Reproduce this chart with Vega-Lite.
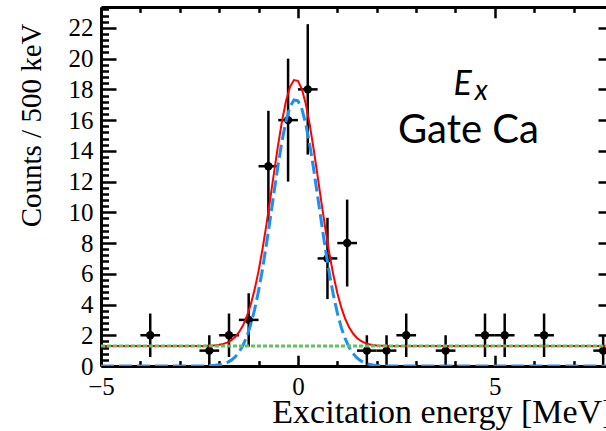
{
  "$schema": "https://vega.github.io/schema/vega-lite/v6.json",
  "width": 512,
  "height": 359,
  "autosize": {"type": "none"},
  "padding": {"left": 101, "top": 7, "right": -7, "bottom": 65},
  "background": "white",
  "config": {"view": {"stroke": null}, "axis": {"grid": false}},
  "datasets": {
    "counts": [
      {"x": -3.75, "y": 2, "ylo": 0.586, "yhi": 3.414, "xlo": -4.0, "xhi": -3.5},
      {"x": -2.25, "y": 1, "ylo": 0, "yhi": 2, "xlo": -2.5, "xhi": -2.0},
      {"x": -1.75, "y": 2, "ylo": 0.586, "yhi": 3.414, "xlo": -2.0, "xhi": -1.5},
      {"x": -1.25, "y": 3, "ylo": 1.268, "yhi": 4.732, "xlo": -1.5, "xhi": -1.0},
      {"x": -0.75, "y": 13, "ylo": 9.394, "yhi": 16.606, "xlo": -1.0, "xhi": -0.5},
      {"x": -0.25, "y": 16, "ylo": 12, "yhi": 20, "xlo": -0.5, "xhi": 0.0},
      {"x": 0.25, "y": 18, "ylo": 13.757, "yhi": 22.243, "xlo": 0.0, "xhi": 0.5},
      {"x": 0.75, "y": 7, "ylo": 4.354, "yhi": 9.646, "xlo": 0.5, "xhi": 1.0},
      {"x": 1.25, "y": 8, "ylo": 5.172, "yhi": 10.828, "xlo": 1.0, "xhi": 1.5},
      {"x": 1.75, "y": 1, "ylo": 0, "yhi": 2, "xlo": 1.5, "xhi": 2.0},
      {"x": 2.25, "y": 1, "ylo": 0, "yhi": 2, "xlo": 2.0, "xhi": 2.5},
      {"x": 2.75, "y": 2, "ylo": 0.586, "yhi": 3.414, "xlo": 2.5, "xhi": 3.0},
      {"x": 3.75, "y": 1, "ylo": 0, "yhi": 2, "xlo": 3.5, "xhi": 4.0},
      {"x": 4.75, "y": 2, "ylo": 0.586, "yhi": 3.414, "xlo": 4.5, "xhi": 5.0},
      {"x": 5.25, "y": 2, "ylo": 0.586, "yhi": 3.414, "xlo": 5.0, "xhi": 5.5},
      {"x": 6.25, "y": 2, "ylo": 0.586, "yhi": 3.414, "xlo": 6.0, "xhi": 6.5},
      {"x": 7.75, "y": 1, "ylo": 0, "yhi": 2, "xlo": 7.5, "xhi": 8.0}
    ],
    "fit": [
      {"x": -5, "sig": 0, "tot": 1.3},
      {"x": -2.5, "sig": 0.003, "tot": 1.303},
      {"x": -2.4, "sig": 0.007, "tot": 1.307},
      {"x": -2.3, "sig": 0.013, "tot": 1.313},
      {"x": -2.2, "sig": 0.024, "tot": 1.324},
      {"x": -2.1, "sig": 0.044, "tot": 1.344},
      {"x": -2.0, "sig": 0.078, "tot": 1.378},
      {"x": -1.9, "sig": 0.134, "tot": 1.434},
      {"x": -1.8, "sig": 0.224, "tot": 1.524},
      {"x": -1.7, "sig": 0.364, "tot": 1.664},
      {"x": -1.6, "sig": 0.575, "tot": 1.875},
      {"x": -1.5, "sig": 0.883, "tot": 2.183},
      {"x": -1.4, "sig": 1.316, "tot": 2.616},
      {"x": -1.3, "sig": 1.906, "tot": 3.206},
      {"x": -1.2, "sig": 2.683, "tot": 3.983},
      {"x": -1.1, "sig": 3.670, "tot": 4.970},
      {"x": -1.0, "sig": 4.876, "tot": 6.176},
      {"x": -0.9, "sig": 6.297, "tot": 7.597},
      {"x": -0.8, "sig": 7.902, "tot": 9.202},
      {"x": -0.7, "sig": 9.633, "tot": 10.933},
      {"x": -0.6, "sig": 11.413, "tot": 12.713},
      {"x": -0.5, "sig": 13.138, "tot": 14.438},
      {"x": -0.4, "sig": 14.696, "tot": 15.996},
      {"x": -0.3, "sig": 15.972, "tot": 17.272},
      {"x": -0.2, "sig": 16.868, "tot": 18.168},
      {"x": -0.1, "sig": 17.310, "tot": 18.610},
      {"x": 0.0, "sig": 17.260, "tot": 18.560},
      {"x": 0.1, "sig": 16.724, "tot": 18.024},
      {"x": 0.2, "sig": 15.744, "tot": 17.044},
      {"x": 0.3, "sig": 14.403, "tot": 15.703},
      {"x": 0.4, "sig": 12.803, "tot": 14.103},
      {"x": 0.5, "sig": 11.058, "tot": 12.358},
      {"x": 0.6, "sig": 9.281, "tot": 10.581},
      {"x": 0.7, "sig": 7.568, "tot": 8.868},
      {"x": 0.8, "sig": 5.997, "tot": 7.297},
      {"x": 0.9, "sig": 4.617, "tot": 5.917},
      {"x": 1.0, "sig": 3.455, "tot": 4.755},
      {"x": 1.1, "sig": 2.511, "tot": 3.811},
      {"x": 1.2, "sig": 1.774, "tot": 3.074},
      {"x": 1.3, "sig": 1.218, "tot": 2.518},
      {"x": 1.4, "sig": 0.812, "tot": 2.112},
      {"x": 1.5, "sig": 0.526, "tot": 1.826},
      {"x": 1.6, "sig": 0.331, "tot": 1.631},
      {"x": 1.7, "sig": 0.203, "tot": 1.503},
      {"x": 1.8, "sig": 0.121, "tot": 1.421},
      {"x": 1.9, "sig": 0.070, "tot": 1.370},
      {"x": 2.0, "sig": 0.039, "tot": 1.339},
      {"x": 2.1, "sig": 0.021, "tot": 1.321},
      {"x": 2.2, "sig": 0.011, "tot": 1.311},
      {"x": 2.3, "sig": 0.006, "tot": 1.306},
      {"x": 2.4, "sig": 0.003, "tot": 1.303},
      {"x": 2.5, "sig": 0.001, "tot": 1.301},
      {"x": 8, "sig": 0, "tot": 1.3}
    ],
    "bkg": [
      {"x": -5, "y": 1.3},
      {"x": 8, "y": 1.3}
    ],
    "notes": [
      {"x": 4.33, "y": 14.5, "label": "Gate Ca"}
    ],
    "symbol": [
      {"x": 3.95, "y": 17.65, "label": "E", "sx": 4.49, "sy": 17.3, "sub": "x"}
    ]
  },
  "layer": [
    {
      "data": {"name": "counts"},
      "mark": {"type": "rule", "color": "black", "strokeWidth": 2.5},
      "encoding": {
        "x": {
          "field": "x", "type": "quantitative",
          "scale": {"domain": [-5, 8], "nice": false, "zero": false},
          "axis": {
            "orient": "bottom",
            "values": [-5, 0, 5],
            "tickSize": -10.8,
            "tickWidth": 2.5, "tickColor": "black",
            "domainColor": "black", "domainWidth": 3,
            "labelFont": "Liberation Serif", "labelFontSize": 25, "labelColor": "black",
            "labelPadding": 18.8, "labelOverlap": false, "labelFlush": false, "labelBound": false,
            "title": "Excitation energy [MeV]",
            "titleFont": "Liberation Serif", "titleFontSize": 34, "titleFontWeight": "normal", "titleColor": "black",
            "titleX": 512, "titleY": 56, "titleAlign": "right", "titleBaseline": "alphabetic"
          }
        },
        "y": {
          "field": "ylo", "type": "quantitative",
          "scale": {"domain": [0, 23.36], "nice": false, "zero": false},
          "axis": {
            "orient": "left",
            "values": [0, 2, 4, 6, 8, 10, 12, 14, 16, 18, 20, 22],
            "tickSize": -15,
            "tickWidth": 2.5, "tickColor": "black",
            "domainColor": "black", "domainWidth": 3,
            "format": "d",
            "labelFont": "Liberation Serif", "labelFontSize": 25, "labelColor": "black",
            "labelPadding": 23, "labelOverlap": false, "labelFlush": false, "labelBound": false,
            "title": "Counts / 500 keV",
            "titleFont": "Liberation Serif", "titleFontSize": 29, "titleFontWeight": "normal", "titleColor": "black",
            "titleAngle": -90, "titleX": -61, "titleY": 16, "titleAlign": "right", "titleBaseline": "alphabetic"
          }
        },
        "y2": {"field": "yhi"}
      }
    },
    {
      "data": {"name": "counts"},
      "mark": {"type": "rule", "color": "black", "strokeWidth": 2.5, "clip": true},
      "encoding": {
        "x": {
          "field": "xlo", "type": "quantitative",
          "axis": {
            "orient": "bottom",
            "values": [-4, -3, -2, -1, 1, 2, 3, 4, 6, 7, 8],
            "tickSize": -5.4,
            "tickWidth": 2.5, "tickColor": "black",
            "domain": false, "labels": false, "title": null
          }
        },
        "x2": {"field": "xhi"},
        "y": {
          "field": "y", "type": "quantitative",
          "axis": {
            "orient": "left",
            "values": [0.4,0.8,1.2,1.6,2.4,2.8,3.2,3.6,4.4,4.8,5.2,5.6,6.4,6.8,7.2,7.6,8.4,8.8,9.2,9.6,10.4,10.8,11.2,11.6,12.4,12.8,13.2,13.6,14.4,14.8,15.2,15.6,16.4,16.8,17.2,17.6,18.4,18.8,19.2,19.6,20.4,20.8,21.2,21.6,22.4,22.8,23.2],
            "tickSize": -7.5,
            "tickWidth": 2.5, "tickColor": "black",
            "domain": false, "labels": false, "title": null
          }
        }
      }
    },
    {
      "data": {"name": "counts"},
      "mark": {"type": "point", "shape": "circle", "filled": true, "size": 70, "color": "black", "opacity": 1},
      "encoding": {
        "x": {"field": "x", "type": "quantitative", "axis": null},
        "y": {"field": "y", "type": "quantitative", "axis": null}
      }
    },
    {
      "data": {"name": "fit"},
      "mark": {"type": "line", "color": "#ff0000", "strokeWidth": 2, "clip": true},
      "encoding": {
        "x": {
          "field": "x", "type": "quantitative",
          "axis": {
            "orient": "top",
            "values": [-4, -3, -2, -1, 1, 2, 3, 4, 6, 7, 8],
            "tickSize": -5.4,
            "tickWidth": 2.5, "tickColor": "black",
            "domain": false, "labels": false, "title": null
          }
        },
        "y": {
          "field": "tot", "type": "quantitative",
          "axis": {
            "orient": "right",
            "values": [0.4,0.8,1.2,1.6,2.4,2.8,3.2,3.6,4.4,4.8,5.2,5.6,6.4,6.8,7.2,7.6,8.4,8.8,9.2,9.6,10.4,10.8,11.2,11.6,12.4,12.8,13.2,13.6,14.4,14.8,15.2,15.6,16.4,16.8,17.2,17.6,18.4,18.8,19.2,19.6,20.4,20.8,21.2,21.6,22.4,22.8,23.2],
            "tickSize": -7.5,
            "tickWidth": 2.5, "tickColor": "black",
            "domain": false, "labels": false, "title": null
          }
        }
      }
    },
    {
      "data": {"name": "fit"},
      "mark": {"type": "line", "color": "#1a90f5", "strokeWidth": 3, "strokeDash": [13, 5], "clip": true},
      "encoding": {
        "x": {"field": "x", "type": "quantitative", "axis": null},
        "y": {"field": "sig", "type": "quantitative", "axis": null}
      }
    },
    {
      "data": {"name": "bkg"},
      "mark": {"type": "line", "color": "#5ec45e", "strokeWidth": 3, "strokeDash": [4, 2], "clip": true},
      "encoding": {
        "x": {
          "field": "x", "type": "quantitative",
          "axis": {
            "orient": "top",
            "values": [-5, 0, 5],
            "tickSize": -10.8,
            "tickWidth": 2.5, "tickColor": "black",
            "domainColor": "black", "domainWidth": 3,
            "labels": false, "title": null
          }
        },
        "y": {
          "field": "y", "type": "quantitative",
          "axis": {
            "orient": "right",
            "values": [0, 2, 4, 6, 8, 10, 12, 14, 16, 18, 20, 22],
            "tickSize": -15,
            "tickWidth": 2.5, "tickColor": "black",
            "domainColor": "black", "domainWidth": 3,
            "labels": false, "title": null
          }
        }
      }
    },
    {
      "data": {"name": "notes"},
      "mark": {"type": "text", "font": "Lato", "fontSize": 40, "align": "center", "baseline": "alphabetic", "color": "black"},
      "encoding": {
        "x": {"field": "x", "type": "quantitative", "axis": null},
        "y": {"field": "y", "type": "quantitative", "axis": null},
        "text": {"field": "label"}
      }
    },
    {
      "data": {"name": "symbol"},
      "mark": {"type": "text", "font": "Lato", "fontStyle": "italic", "fontSize": 34, "align": "left", "baseline": "alphabetic", "color": "black"},
      "encoding": {
        "x": {"field": "x", "type": "quantitative", "axis": null},
        "y": {"field": "y", "type": "quantitative", "axis": null},
        "text": {"field": "label"}
      }
    },
    {
      "data": {"name": "symbol"},
      "mark": {"type": "text", "font": "Lato", "fontStyle": "italic", "fontSize": 28, "align": "left", "baseline": "alphabetic", "color": "black"},
      "encoding": {
        "x": {"field": "sx", "type": "quantitative", "axis": null},
        "y": {"field": "sy", "type": "quantitative", "axis": null},
        "text": {"field": "sub"}
      }
    }
  ],
  "resolve": {"axis": {"x": "independent", "y": "independent"}}
}
